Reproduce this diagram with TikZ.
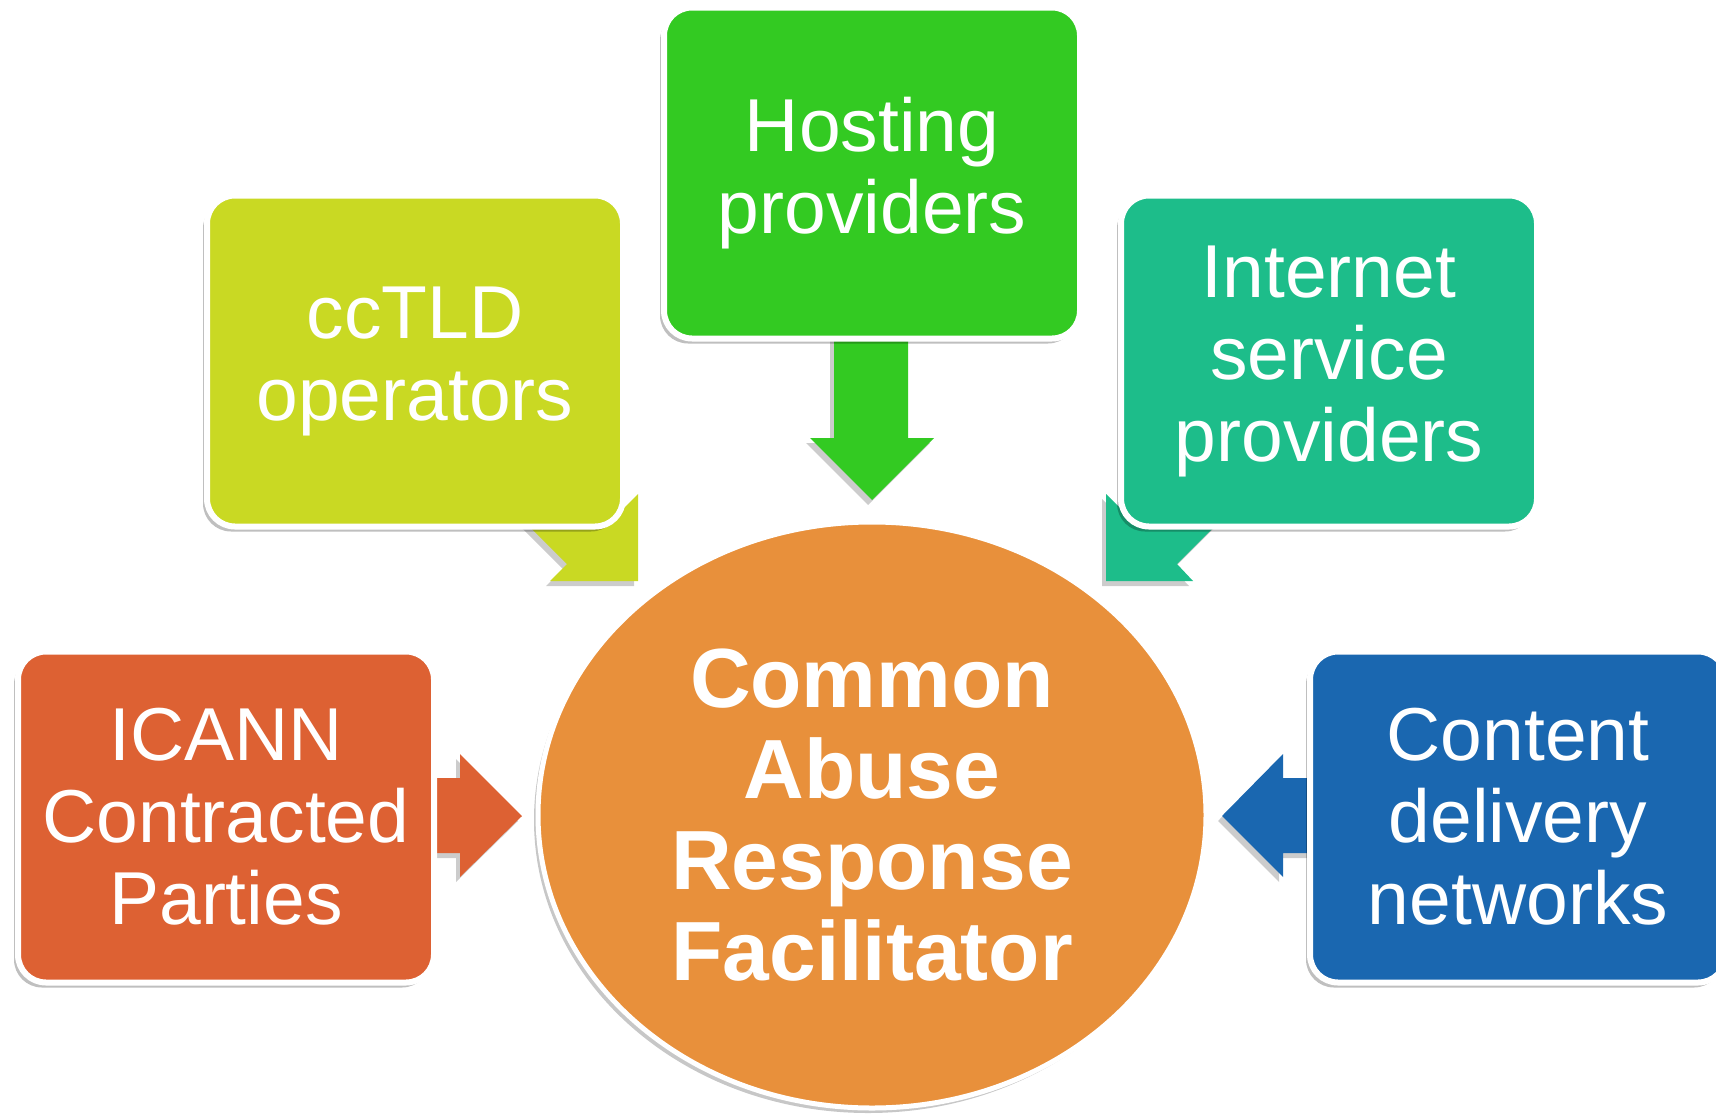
\documentclass[tikz,border=0pt]{standalone}
\usepackage{fontspec}
\setmainfont{Liberation Sans}
\usetikzlibrary{shapes.geometric,shadows}
\definecolor{cHost}{RGB}{51,202,34}
\definecolor{cTld}{RGB}{201,217,35}
\definecolor{cIsp}{RGB}{29,189,138}
\definecolor{cIcann}{RGB}{221,97,51}
\definecolor{cCdn}{RGB}{26,103,176}
\definecolor{cCarf}{RGB}{232,144,59}
\tikzset{
  box/.style={rectangle, rounded corners=28pt, draw=white, line width=6pt,
    minimum width=416pt, minimum height=331pt, align=center, text=white,
    font=\fontsize{75}{82}\selectfont,
    drop shadow={shadow xshift=-4pt, shadow yshift=-5pt, opacity=0.25, fill=black}},
  blockarrow/.style={draw=none,
    drop shadow={shadow xshift=-4pt, shadow yshift=-5pt, opacity=0.2, fill=black}},
}
\begin{document}
\begin{tikzpicture}[x=1pt,y=-1pt]
\useasboundingbox (0,0) rectangle (1716,1117);
\clip (0,0) rectangle (1716,1117);
% block arrows (behind the boxes)
\fill[cHost, blockarrow] (834,300) -- (908,300) -- (908,438) -- (934,438) -- (872,500) -- (810,438) -- (834,438) -- cycle;
\fill[cTld, blockarrow] (467,464) -- (567,564) -- (550,581) -- (638,581) -- (638,494) -- (621,511) -- (521,411) -- cycle;
\fill[cIsp, blockarrow] (1277,464) -- (1177,564) -- (1193,581) -- (1106,581) -- (1106,494) -- (1123,511) -- (1223,411) -- cycle;
\fill[cIcann, blockarrow] (420,778) -- (460,778) -- (460,754) -- (522,816) -- (460,877) -- (460,853) -- (420,853) -- cycle;
\fill[cCdn, blockarrow] (1330,778) -- (1283,778) -- (1283,754) -- (1222,816) -- (1283,877) -- (1283,853) -- (1330,853) -- cycle;
% boxes
\node[box, fill=cHost] (hosting) at (872,173) {Hosting\\providers};
\node[box, fill=cTld] (cctld) at (415,361) {ccTLD\\operators};
\node[box, fill=cIsp] (isp) at (1329,361) {Internet\\service\\providers};
\node[box, fill=cIcann] (icann) at (226,817) {ICANN\\Contracted\\Parties};
\node[box, fill=cCdn] (cdn) at (1518,817) {Content\\delivery\\networks};
% centre
\node[ellipse, fill=cCarf, draw=white, line width=5pt, minimum width=668pt, minimum height=586pt,
  align=center, text=white, font=\bfseries\fontsize{84}{91}\selectfont,
  drop shadow={shadow xshift=-4pt, shadow yshift=-5pt, opacity=0.22, fill=black}]
  (carf) at (872,815) {Common\\Abuse\\Response\\Facilitator};
\end{tikzpicture}
\end{document}
